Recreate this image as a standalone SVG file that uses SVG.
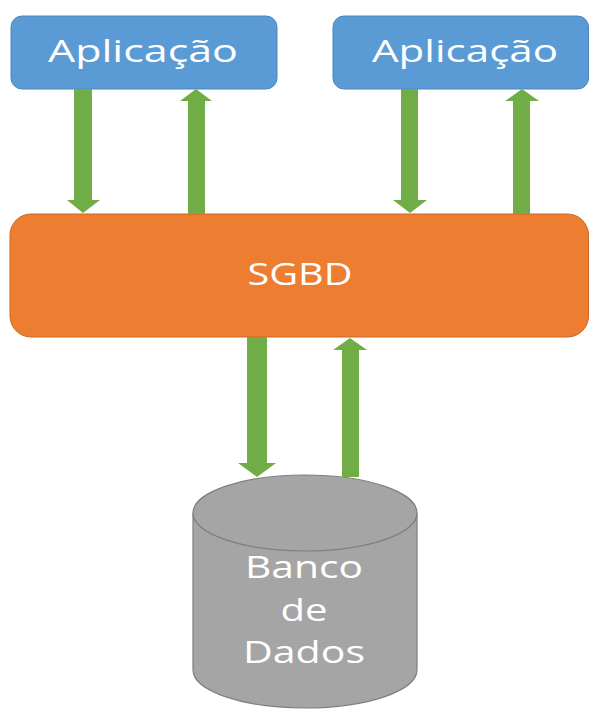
<svg xmlns="http://www.w3.org/2000/svg" width="590" height="715" viewBox="0 0 590 715">
<style>
.app{fill:#5B9BD5;stroke:#4A86BE;stroke-width:1}
.sgbd{fill:#ED7D31;stroke:#C9681F;stroke-width:1}
.db{fill:#A5A5A5;stroke:#7F7F7F;stroke-width:1.2}
.arr{fill:#70AD47}
.t{font-family:"Open Sans","DejaVu Sans",sans-serif;fill:#FFFFFF;text-anchor:middle;font-size:31px}
</style>
<rect width="590" height="715" fill="#FFFFFF"/>
<g id="app1">
<rect class="app" x="11" y="16" width="266" height="73" rx="11"/>
<text class="t" x="143" y="62" textLength="190" lengthAdjust="spacingAndGlyphs">Aplicação</text>
</g>
<g id="app2">
<rect class="app" x="333" y="16" width="255.5" height="73" rx="11"/>
<text class="t" x="465" y="62" textLength="186" lengthAdjust="spacingAndGlyphs">Aplicação</text>
</g>
<g id="sgbd">
<rect class="sgbd" x="10" y="214" width="578.5" height="123" rx="21"/>
<text class="t" x="300" y="285" textLength="105" lengthAdjust="spacingAndGlyphs">SGBD</text>
</g>
<g id="db">
<path class="db" d="M193,513 L193,670 A112,38 0 0 0 417,670 L417,513"/>
<ellipse class="db" cx="305" cy="513" rx="112" ry="38"/>
<text class="t" x="304" y="578" textLength="118" lengthAdjust="spacingAndGlyphs">Banco</text>
<text class="t" x="304" y="621" textLength="47" lengthAdjust="spacingAndGlyphs">de</text>
<text class="t" x="304" y="663" textLength="122" lengthAdjust="spacingAndGlyphs">Dados</text>
</g>
<g id="connectors">
<polygon class="arr" points="74,89 92,89 92,200 100,200 83,213 67,200 74,200"/>
<polygon class="arr" points="188,214 205,214 205,101 212,101 196,89 180,101 188,101"/>
<polygon class="arr" points="401,89 418,89 418,200 427,200 410,213 393,200 401,200"/>
<polygon class="arr" points="513,214 530,214 530,101 539,101 522,89 505,101 513,101"/>
<polygon class="arr" points="247,337 267,337 267,463 276,463 257,477 238,463 247,463"/>
<polygon class="arr" points="342,477 359,477 359,350 367,350 350,338 333,350 342,350"/>
</g>
</svg>
